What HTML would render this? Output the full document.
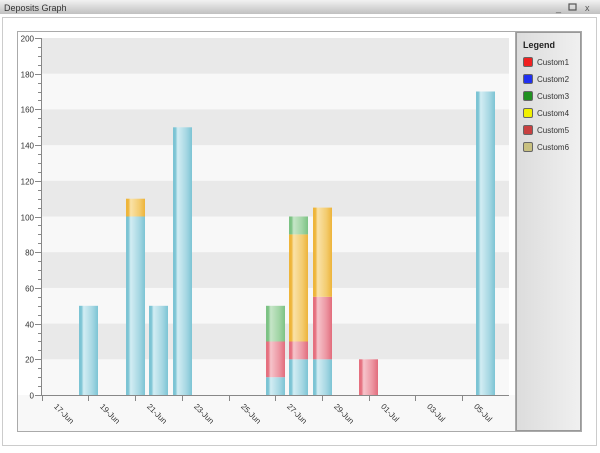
<!DOCTYPE html>
<html><head><style>
body{margin:0;width:600px;height:448px;overflow:hidden;background:#fff;font-family:"Liberation Sans",sans-serif;}
</style></head><body>
<svg width="600" height="448" xmlns="http://www.w3.org/2000/svg" font-family="Liberation Sans, sans-serif">
<defs>
<linearGradient id="tb" x1="0" y1="0" x2="0" y2="1"><stop offset="0" stop-color="#f2f2f2"/><stop offset="1" stop-color="#c0c0c0"/></linearGradient>
<linearGradient id="lg" x1="0" y1="0" x2="1" y2="0"><stop offset="0" stop-color="#dcdcdc"/><stop offset="1" stop-color="#f0f0f0"/></linearGradient>
<linearGradient id="gb" x1="0" y1="0" x2="1" y2="0"><stop offset="0" stop-color="#7cc4d4"/><stop offset="0.12" stop-color="#7cc4d4"/><stop offset="0.25" stop-color="#d2edf3"/><stop offset="0.7" stop-color="#a6d7e3"/><stop offset="1" stop-color="#7cc4d4"/></linearGradient>
<linearGradient id="gr" x1="0" y1="0" x2="1" y2="0"><stop offset="0" stop-color="#e5707f"/><stop offset="0.12" stop-color="#e5707f"/><stop offset="0.25" stop-color="#f6c4cb"/><stop offset="0.7" stop-color="#ec96a2"/><stop offset="1" stop-color="#e26c7c"/></linearGradient>
<linearGradient id="gy" x1="0" y1="0" x2="1" y2="0"><stop offset="0" stop-color="#eeb53a"/><stop offset="0.12" stop-color="#eeb53a"/><stop offset="0.25" stop-color="#fae2a8"/><stop offset="0.7" stop-color="#f3cc70"/><stop offset="1" stop-color="#edb43a"/></linearGradient>
<linearGradient id="gg" x1="0" y1="0" x2="1" y2="0"><stop offset="0" stop-color="#7cc284"/><stop offset="0.12" stop-color="#7cc284"/><stop offset="0.25" stop-color="#c6e6c8"/><stop offset="0.7" stop-color="#a0d4a4"/><stop offset="1" stop-color="#7cc284"/></linearGradient>
</defs>
<rect x="0" y="0" width="600" height="448" fill="#fff"/>
<rect x="0" y="0" width="600" height="14" fill="url(#tb)"/>
<text x="4" y="11" font-size="9" fill="#333">Deposits Graph</text>
<text x="556" y="11" font-size="9" fill="#555">_</text>
<rect x="569" y="4" width="7" height="6" fill="none" stroke="#555" stroke-width="1.2"/>
<text x="585" y="11" font-size="9" fill="#555">x</text>
<rect x="2.5" y="17.5" width="594" height="428" fill="none" stroke="#ccc"/>
<rect x="17.5" y="31.5" width="564" height="400" fill="#fff" stroke="#aaa"/>
<rect x="41" y="38" width="468" height="357" fill="#f8f8f8"/>
<g fill="#e9e9e9">
<rect x="41" y="38" width="468" height="35.7"/>
<rect x="41" y="109.4" width="468" height="35.7"/>
<rect x="41" y="180.8" width="468" height="35.7"/>
<rect x="41" y="252.2" width="468" height="35.7"/>
<rect x="41" y="323.6" width="468" height="35.7"/>
</g>
<rect x="17.5" y="395" width="498" height="36" fill="#f8f8f8"/>
<rect x="17.5" y="31.5" width="498" height="400" fill="none" stroke="#aaa"/>
<rect x="516.5" y="32.5" width="64" height="398" fill="url(#lg)" stroke="#999"/>
<text x="523" y="48" font-size="9" font-weight="bold" fill="#222">Legend</text>
<g font-size="8" fill="#333">
<rect x="523.5" y="57.5" width="9" height="9" rx="1.5" fill="#f02020" stroke="#666"/><text x="537" y="65">Custom1</text>
<rect x="523.5" y="74.5" width="9" height="9" rx="1.5" fill="#2030f0" stroke="#666"/><text x="537" y="82">Custom2</text>
<rect x="523.5" y="91.5" width="9" height="9" rx="1.5" fill="#209020" stroke="#666"/><text x="537" y="99">Custom3</text>
<rect x="523.5" y="108.5" width="9" height="9" rx="1.5" fill="#f0f000" stroke="#666"/><text x="537" y="116">Custom4</text>
<rect x="523.5" y="125.5" width="9" height="9" rx="1.5" fill="#c84040" stroke="#666"/><text x="537" y="133">Custom5</text>
<rect x="523.5" y="142.5" width="9" height="9" rx="1.5" fill="#c8c080" stroke="#666"/><text x="537" y="150">Custom6</text>
</g>
<rect x="79" y="305.8" width="19" height="89.2" fill="url(#gb)"/>
<rect x="126" y="216.5" width="19" height="178.5" fill="url(#gb)"/>
<rect x="126" y="198.7" width="19" height="17.8" fill="url(#gy)"/>
<rect x="149" y="305.8" width="19" height="89.2" fill="url(#gb)"/>
<rect x="173" y="127.3" width="19" height="267.7" fill="url(#gb)"/>
<rect x="266" y="377.2" width="19" height="17.8" fill="url(#gb)"/>
<rect x="266" y="341.5" width="19" height="35.7" fill="url(#gr)"/>
<rect x="266" y="305.8" width="19" height="35.7" fill="url(#gg)"/>
<rect x="289" y="359.3" width="19" height="35.7" fill="url(#gb)"/>
<rect x="289" y="341.5" width="19" height="17.8" fill="url(#gr)"/>
<rect x="289" y="234.4" width="19" height="107.1" fill="url(#gy)"/>
<rect x="289" y="216.5" width="19" height="17.9" fill="url(#gg)"/>
<rect x="313" y="359.3" width="19" height="35.7" fill="url(#gb)"/>
<rect x="313" y="296.8" width="19" height="62.5" fill="url(#gr)"/>
<rect x="313" y="207.6" width="19" height="89.2" fill="url(#gy)"/>
<rect x="359" y="359.3" width="19" height="35.7" fill="url(#gr)"/>
<rect x="476" y="91.5" width="19" height="303.5" fill="url(#gb)"/>
<g stroke="#888" stroke-width="1">
<line x1="41.5" y1="38" x2="41.5" y2="395"/>
<line x1="41" y1="395.5" x2="509" y2="395.5"/>
</g>
<g stroke="#888" id="yt"></g>
<g font-size="8" fill="#333" text-anchor="end" id="yl"></g>
<g stroke="#888" id="xt"></g>
<g font-size="8" fill="#333" id="xl"></g>
<script>
var ns="http://www.w3.org/2000/svg";
function el(p,t,a,txt){var e=document.createElementNS(ns,t);for(var k in a)e.setAttribute(k,a[k]);if(txt)e.textContent=txt;document.getElementById(p).appendChild(e);}
for(var v=0;v<=200;v+=5){var y=395-v*1.785;y=Math.round(y)+0.5;var maj=v%20==0;
el("yt","line",{x1:maj?35:38,y1:y,x2:41,y2:y});
if(maj)el("yl","text",{x:34,y:y+3},String(v));}
var labs=["17-Jun","19-Jun","21-Jun","23-Jun","25-Jun","27-Jun","29-Jun","01-Jul","03-Jul","05-Jul"];
for(var i=0;i<10;i++){var x=Math.round(41.7+46.7*i)+0.5;
el("xt","line",{x1:x,y1:395,x2:x,y2:401});
var tx=x+11,ty=407;
el("xl","text",{x:tx,y:ty,transform:"rotate(45 "+tx+" "+ty+")"},labs[i]);}
</script>
</svg>
</body></html>
